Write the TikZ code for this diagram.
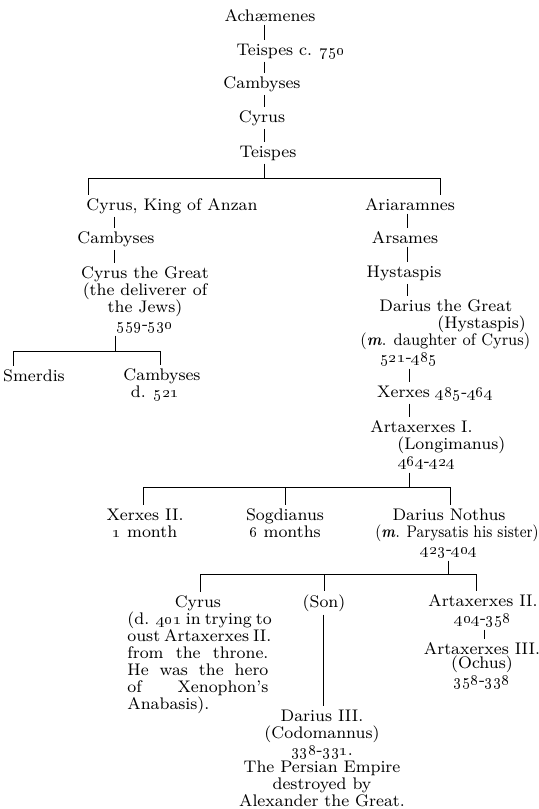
\documentclass[tikz,border=0pt]{standalone}
\newcommand{\osn}[1]{\oldstylenums{#1}}
\newcommand{\yr}[2]{\oldstylenums{#1}-\oldstylenums{#2}}
\newcommand{\mm}{\textbf{\textit{m}}}
\begin{document}
\begin{tikzpicture}[x=0.5pt,y=-0.5pt,
  person/.style={inner sep=1.5pt, font=\fontsize{8.4}{8.5}\selectfont, anchor=base, align=center},
  personL/.style={person, anchor=base west, align=left},
  link/.style={line width=0.4pt, draw=black}]
\useasboundingbox (0,0) rectangle (539,809);
% top line (multi-line nodes are placed by the baseline of their last line)
\node[person] (ach) at (270,21) {Achæmenes};
\node[person] (tei1) at (291,55) {Teispes c. \osn{750}};
\node[person] (camb1) at (262,88) {Cambyses};
\node[person] (cyr1) at (262,122) {Cyrus};
\node[person] (tei2) at (268,157) {Teispes};
\coordinate (vA) at (264,178);
\draw[link] (ach.south -| vA) -- (tei1.north -| vA);
\draw[link] (tei1.south -| vA) -- (camb1.north -| vA);
\draw[link] (camb1.south -| vA) -- (cyr1.north -| vA);
\draw[link] (cyr1.south -| vA) -- (tei2.north -| vA);
\draw[link] (tei2.south -| vA) -- (vA);
\coordinate (b1L) at (88,178);
\coordinate (b1R) at (440,178);
\draw[link] (b1L) -- (b1R);
% left branch
\node[person] (cka) at (172,210) {Cyrus, King of Anzan};
\node[person] (camb2) at (116,243) {Cambyses};
\node[person] (cyg) at (145,329) {Cyrus the Great\\(the deliverer of\\the Jews)\\\yr{559}{530}};
\draw[link] (b1L) -- (cka.north -| b1L);
\coordinate (vB) at (114,0);
\draw[link] (cka.south -| vB) -- (camb2.north -| vB);
\draw[link] (camb2.south -| vB) -- (cyg.north -| vB);
\coordinate (b2M) at (115,351);
\coordinate (b2L) at (13,351);
\coordinate (b2R) at (160,351);
\node[person] (smerdis) at (34,381) {Smerdis};
\node[person] (camb3) at (162,397) {Cambyses\\d. \osn{521}\hspace*{7pt}};
\draw[link] (cyg.south -| b2M) -- (b2M);
\draw[link] (b2L) -- (b2R);
\draw[link] (b2L) -- (smerdis.north -| b2L);
\draw[link] (b2R) -- (camb3.north -| b2R);
% right branch
\node[person] (ari) at (410,210) {Ariaramnes};
\node[person] (ars) at (405,243) {Arsames};
\node[person] (hys) at (404,277) {Hystaspis};
\draw[link] (b1R) -- (ari.north -| b1R);
\coordinate (vC) at (407,0);
\draw[link] (ari.south -| vC) -- (ars.north -| vC);
\draw[link] (ars.south -| vC) -- (hys.north -| vC);
\node[personL] (dar1) at (357,362) {\hspace*{9.5pt}Darius the Great\\\hspace*{38.5pt}(Hystaspis)\\\scalebox{0.92}[1]{(\mm. daughter of Cyrus)}\\\hspace*{10pt}\yr{521}{485}};
\draw[link] (hys.south -| vC) -- (dar1.north -| vC);
\node[person] (xer) at (435,397) {Xerxes \yr{485}{464}};
\node[personL] (art1) at (367,466) {Artaxerxes I.\\\hspace*{13.5pt}(Longimanus)\\\hspace*{14pt}\yr{464}{424}};
\coordinate (vD) at (409,0);
\draw[link] (dar1.south -| vD) -- (xer.north -| vD);
\draw[link] (xer.south -| vD) -- (art1.north -| vD);
\coordinate (b3M) at (409,487);
\coordinate (b3L) at (143,487);
\coordinate (b3S) at (285,487);
\coordinate (b3R) at (450,487);
\node[person] (xer2) at (145,537) {Xerxes II.\\\osn{1} month};
\node[person] (sog) at (285,537) {Sogdianus\\\osn{6} months};
\node[person] (dn) at (457,554) {Darius Nothus\hspace*{8pt}\\\scalebox{0.86}[1]{(\mm. Parysatis his sister)}\\\yr{423}{404}\hspace*{8pt}};
\draw[link] (art1.south -| b3M) -- (b3M);
\draw[link] (b3L) -- (b3R);
\draw[link] (b3L) -- (xer2.north -| b3L);
\draw[link] (b3S) -- (sog.north -| b3S);
\draw[link] (b3R) -- (dn.north -| b3R);
\coordinate (b4M) at (448,574);
\coordinate (b4L) at (200,574);
\coordinate (b4S) at (324,574);
\coordinate (b4R) at (476,574);
\node[personL] (cyr2) at (124,709) {\makebox[70.5pt]{Cyrus}\\
  \makebox[70.5pt][s]{(d. \osn{401} in trying to}\\
  \makebox[70.5pt][s]{oust Artaxerxes II.}\\
  \makebox[70.5pt][s]{from the throne.}\\
  \makebox[70.5pt][s]{He was the hero}\\
  \makebox[70.5pt][s]{of Xenophon's}\\
  Anabasis).};
\node[person] (son) at (324,607) {(Son)};
\node[person] (dar3) at (322,806) {Darius III.\\(Codomannus)\hspace*{5pt}\\\yr{338}{331}.\hspace*{13pt}\\The Persian Empire\\destroyed by\hspace*{7pt}\\Alexander the Great.};
\node[person] (art2) at (483,623) {Artaxerxes II.\\\yr{404}{358}};
\node[person, font=\fontsize{8.4}{6.8}\selectfont] (art3) at (482,685) {Artaxerxes III.\\(Ochus)\\\yr{358}{338}};
\draw[link] (dn.south -| b4M) -- (b4M);
\draw[link] (b4L) -- (b4R);
\draw[link] (b4L) -- (cyr2.north -| b4L);
\draw[link] (b4S) -- (son.north -| b4S);
\draw[link] (b4R) -- (art2.north -| b4R);
\coordinate (vE) at (323,0);
\draw[link] (son.south -| vE) -- (dar3.north -| vE);
\coordinate (vF) at (484,0);
\draw[link] (art2.south -| vF) -- (art3.north -| vF);
\end{tikzpicture}
\end{document}
